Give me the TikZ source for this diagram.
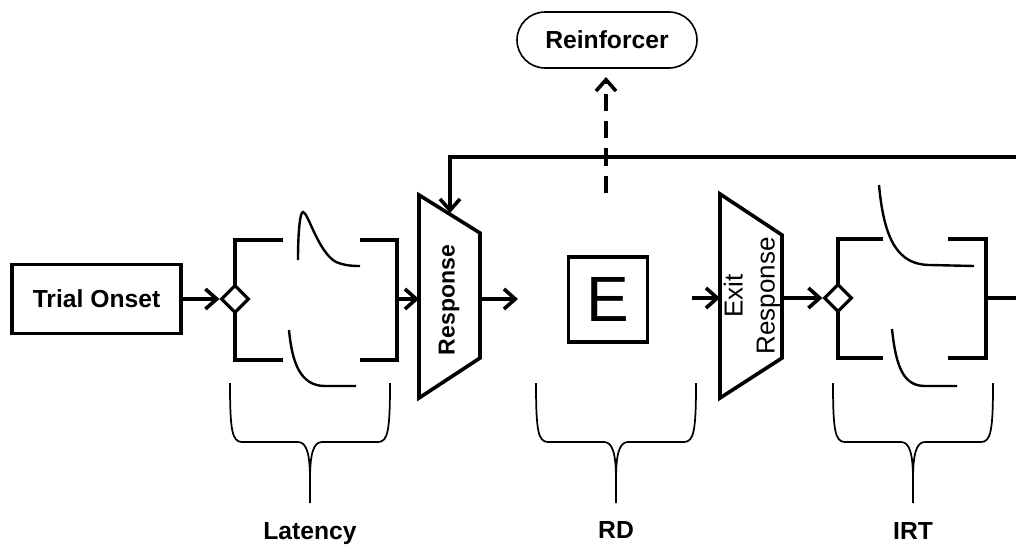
\documentclass[tikz,border=0pt]{standalone}
\usepackage{fontspec}
\setmainfont{Liberation Sans}
\usetikzlibrary{arrows.meta,shapes.geometric}

\begin{document}
\begin{tikzpicture}[x=0.75pt,y=-0.75pt,
    heavy/.style={line width=2.7pt},
    flow/.style={heavy,-{Straight Barb[length=8.5pt,width=15pt]}},
    curve/.style={line width=1.8pt},
    brace/.style={line width=1.3pt},
    lbl/.style={font=\fontsize{18.5}{22}\selectfont\bfseries},
    gate/.style={diamond,draw,fill=white,line width=2.3pt,inner sep=0pt,minimum size=21pt}]

    \useasboundingbox (0,0) rectangle (1016,546);

    % boxes and labels
    \node [draw, heavy, lbl, minimum width=127pt, minimum height=51.5pt] (onset) at (96.5,299) {Trial Onset};
    \node [draw, line width=1.2pt, lbl, rounded corners=21pt, minimum width=135pt, minimum height=42pt] (reinf) at (607,40) {Reinforcer};
    \node [draw, heavy, font=\fontsize{48}{50}\selectfont, minimum width=59pt, minimum height=64pt, inner sep=0pt] (ebox) at (608,299.5) {E};

    % response gates
    \draw [heavy, line join=miter] (419,195) -- (480,233) -- (480,358) -- (419,398) -- cycle;
    \node [lbl, font=\fontsize{17.3}{20}\selectfont\bfseries, rotate=90] (resp) at (449,300) {Response};
    \draw [heavy, line join=miter] (720,194) -- (782,235) -- (782,358) -- (720,398) -- cycle;
    \node [rotate=90, align=center, font=\fontsize{19.5}{24}\selectfont] (exitresp) at (752,296) {Exit\\Response};

    % latency bracket
    \draw [heavy] (283,240) -- (235,240) -- (235,360) -- (283,360);
    \draw [heavy] (360,240) -- (397,240) -- (397,360) -- (360,360);
    \draw [curve] (298,260) .. controls (298,232) and (300,212) .. (303,212) .. controls (308,212) and (318,252) .. (336,262) .. controls (343,265) and (350,266) .. (360,266);
    \draw [curve] (289,330) .. controls (292,362) and (300,386) .. (325,386) -- (356,386);
    \node [gate] (latgate) at (235,299) {};

    % IRT bracket
    \draw [heavy] (883,239) -- (838,239) -- (838,358) -- (883,358);
    \draw [heavy] (948,239) -- (986,239) -- (986,358) -- (948,358);
    \draw [curve] (879,185) .. controls (884,240) and (898,265) .. (930,265) -- (974,266);
    \draw [curve] (892,329) .. controls (896,368) and (904,386) .. (925,386) -- (957,386);
    \node [gate] (irtgate) at (838,298) {};

    % end points
    \coordinate (latout) at (397,299);
    \coordinate (respin) at (419,299);
    \coordinate (respout) at (480,299);
    \coordinate (rdin) at (518,299);
    \coordinate (rdout) at (692,298);
    \coordinate (exitin) at (720,298);
    \coordinate (exitout) at (782,298);
    \coordinate (irtout) at (986,298);
    \coordinate (edge) at (1016,298);
    \coordinate (loopin) at (1016,157);
    \coordinate (respfb) at (450,213);
    \coordinate (rdup) at (606,193);
    \coordinate (reinfin) at (606,77);

    % connectors
    \draw [flow] (onset) -- (latgate);
    \draw [flow] (latout) -- (respin);
    \draw [flow] (respout) -- (rdin);
    \draw [flow] (rdout) -- (exitin);
    \draw [flow] (exitout) -- (irtgate);
    \draw [heavy] (irtout) -- (edge);
    \draw [flow] (loopin) -| (respfb);
    \draw [flow, dash pattern=on 13pt off 7.5pt] (rdup) -- (reinfin);

    % braces
    \foreach \c/\name/\base in {310/Latency/539, 616/RD/538, 913/IRT/539} {
        \draw [brace] (\c-80,383) .. controls (\c-80,430) and (\c-78,442) .. (\c-68,442) -- (\c-12,442)
            .. controls (\c-3,442) and (\c,455) .. (\c,480) -- (\c,503);
        \draw [brace] (\c,480) .. controls (\c,455) and (\c+3,442) .. (\c+12,442) -- (\c+68,442)
            .. controls (\c+78,442) and (\c+80,430) .. (\c+80,383);
        \node [lbl, anchor=base] (lbl\name) at (\c,\base) {\name};
    }

\end{tikzpicture}
\end{document}
